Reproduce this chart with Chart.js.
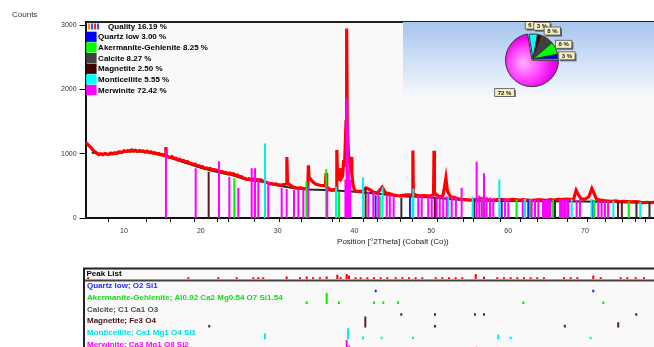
<!DOCTYPE html>
<html><head><meta charset="utf-8">
<script src="https://cdn.jsdelivr.net/npm/chart.js@4.4.1/dist/chart.umd.min.js"></script>
<style>
html,body{margin:0;padding:0;background:#fff;overflow:hidden;}
#wrap{position:relative;width:654px;height:347px;overflow:hidden;background:#fff;}
#main{position:absolute;left:0;top:0;}
#pie{position:absolute;left:403px;top:22px;background:linear-gradient(#a7c5ef,#f6f9fd);}
#peaks{position:absolute;left:0;top:262px;}
</style></head><body>
<div id="wrap">
<canvas id="main" width="720" height="250"></canvas>
<canvas id="pie" width="300" height="75"></canvas>
<canvas id="peaks" width="720" height="85"></canvas>
</div>
<script>
// ---------- text / labels ----------
const xTitle = 'Position [°2Theta] (Cobalt (Co))';
const yTitle = 'Counts';
const xTicks = [10, 20, 30, 40, 50, 60, 70, 80];
const yTicks = [0, 1000, 2000, 3000];
const fitLabel = 'Quality';
const fitPct = 16.19;
const peakListTitle = 'Peak List';

// ---------- phases ----------
const phaseNames = ['Quartz low', 'Akermanite-Gehlenite', 'Calcite', 'Magnetite', 'Monticellite', 'Merwinite'];
const phasePct = [3.00, 8.25, 8.27, 2.50, 5.55, 72.42];
const phaseFormulas = ['O2 Si1', 'Al0.92 Ca2 Mg0.54 O7 Si1.54', 'C1 Ca1 O3', 'Fe3 O4', 'Ca1 Mg1 O4 Si1', 'Ca3 Mg1 O8 Si2'];

// ---------- measured scan ----------
const dataPos = [
 5.0,5.25,5.5,5.75,6.0,6.25,6.5,6.75,7.0,7.25,
 7.5,7.75,8.0,8.25,8.5,8.75,9.0,9.25,9.5,9.75,
 10.0,10.25,10.5,10.75,11.0,11.25,11.5,11.75,12.0,12.25,
 12.5,12.75,13.0,13.25,13.5,13.75,14.0,14.25,14.5,14.75,
 15.0,15.25,15.38,15.45,15.52,15.75,16.0,16.25,16.5,16.75,
 17.0,17.25,17.5,17.75,18.0,18.25,18.5,18.75,19.0,19.25,
 19.5,19.75,20.0,20.25,20.5,20.75,21.0,21.25,21.5,21.75,
 22.0,22.25,22.5,22.75,23.0,23.25,23.5,23.75,24.0,24.25,
 24.5,24.75,25.0,25.25,25.5,25.75,26.0,26.25,26.5,26.75,
 27.0,27.25,27.5,27.75,28.0,28.25,28.5,28.75,29.0,29.25,
 29.5,29.75,30.0,30.25,30.5,30.75,31.0,31.12,31.2,31.28,
 31.6,32.0,32.5,33.0,33.5,33.92,34.0,34.08,34.3,34.6,
 35.0,35.5,36.0,36.22,36.3,36.38,36.6,37.0,37.4,37.62,
 37.7,37.78,37.95,38.12,38.2,38.28,38.45,38.6,38.7,38.9,
 38.98,39.06,39.25,39.45,39.55,39.65,39.8,40.0,40.5,41.0,
 41.5,42.0,42.5,43.0,43.6,44.0,44.5,45.0,45.5,46.0,
 46.5,47.0,47.54,47.6,47.66,48.0,48.5,49.0,49.5,50.0,
 50.29,50.35,50.41,50.6,51.0,51.5,51.7,51.9,52.1,52.5,
 53.0,53.5,54.0,54.5,55.0,55.5,56.0,56.5,57.0,57.5,
 58.0,58.5,59.0,59.5,60.0,60.5,61.0,61.5,62.0,62.5,
 63.0,63.5,64.0,64.5,65.0,65.5,66.0,66.5,67.0,67.5,
 68.0,68.5,68.85,69.2,69.5,70.0,70.5,70.9,71.2,71.5,
 72.0,72.5,73.0,73.5,74.0,74.5,75.0,75.5,76.0,76.5,
 77.0,77.5,78.0,78.5,79.0,79.5];
const dataCounts = [
 1180,1150,1120,1090,1050,1030,1005,985,1000,985,
 1005,995,990,1010,1000,1015,1005,1025,1030,1020,
 1045,1035,1050,1040,1060,1045,1055,1035,1050,1040,
 1045,1025,1040,1020,1030,1010,1015,1000,1005,985,
 990,970,975,1105,965,950,945,955,925,930,
 905,915,890,895,870,880,855,850,830,840,
 810,815,795,800,770,780,765,770,745,755,
 740,735,715,725,705,710,690,700,685,690,
 665,670,650,645,625,615,600,610,595,610,
 605,600,590,595,580,570,555,545,530,535,
 525,530,520,515,510,520,525,530,950,540,
 515,480,465,470,455,470,820,640,600,560,
 525,510,505,505,700,480,465,430,445,445,
 1060,720,600,600,780,620,650,900,800,1500,
 2950,1450,900,800,950,700,520,430,410,420,
 470,440,400,390,480,395,380,360,350,345,
 355,360,355,1050,380,355,345,350,345,350,
 360,1045,380,370,330,345,465,620,420,330,
 320,300,290,285,280,285,290,300,285,280,
 275,285,290,285,280,290,285,280,285,280,
 275,280,285,280,275,285,280,290,285,295,
 290,285,430,350,300,295,330,460,380,290,
 280,270,265,260,265,255,260,255,250,255,
 250,235,245,240,245,250];

// ---------- fitted background ----------
const bgPos = [5.8,7,8,9,10,11,12,13,14,15,16,18,20,22,24,26,28,30,32,34,36,38,40,42,44,46,48,50,52,54,56,60,65,70,75,79.5];
const bgCounts = [1020,995,990,1000,1030,1040,1035,1025,1000,975,935,860,780,720,670,595,565,505,465,445,435,425,410,390,365,340,330,320,300,280,270,265,260,255,245,240];

// ---------- reference sticks (position, counts) ----------
const quartzPos = [42.75,47.22,59.16,62.62,67.83,70.95];
const quartzH = [355,330,300,290,290,285];
const akermPos = [24.36,33.75,36.33,37.98,43.3,47.6,56.68,61.1,62.85,65.85,71.2,73.0,75.7];
const akermH = [620,560,760,400,340,330,305,290,290,285,280,265,260];
const calcitePos = [46.1,50.5,55.6,56.9,66.1,76.7,78.4];
const calciteH = [310,300,300,290,280,255,250];
const magnetitePos = [21.02,41.45,50.45,67.4,74.3,74.8];
const magnetiteH = [720,470,300,285,255,255];
const montPos = [28.35,37.6,41.1,43.65,47.65,52.2,55.38,58.85,62.2,68.27,70.85,73.7,77.2];
const montH = [1160,485,630,485,460,330,330,600,300,290,300,270,250];
const merwPos = [15.46,19.33,22.36,23.71,24.88,26.62,27.05,27.48,28.78,30.52,31.17,32.13,32.69,33.34,33.99,
 36.46,38.82,38.98,39.12,39.3,39.45,41.8,42.45,43.1,44.2,44.6,45.1,48.3,48.75,49.6,50.05,50.7,51.1,51.55,52.0,
 52.65,53.2,53.95,55.9,56.24,56.56,56.86,57.2,57.64,58.07,59.6,60.02,61.9,63.07,63.5,63.93,64.54,64.8,65.06,65.32,
 65.5,66.76,67.0,67.28,67.5,67.78,68.92,69.35,71.73,72.17,72.6,73.03];
const merwH = [1050,775,885,640,465,775,775,590,565,465,450,435,440,440,510,
 485,600,1860,1450,750,590,410,400,380,350,355,345,345,340,340,345,340,330,335,340,
 330,320,470,875,350,330,695,330,320,310,300,300,290,290,280,290,280,280,280,285,
 280,290,285,290,285,290,280,290,270,265,270,260];

// ---------- peak list panel (position, relative intensity %) ----------
const peakListPos = [5.35,18.37,22.27,24.67,26.83,27.48,28.13,31.17,32.9,33.78,34.6,35.5,36.38,37.76,38.2,38.98,39.28,40.15,40.8,41.67,
 42.54,43.41,44.27,45.36,46.22,47.09,47.96,48.83,50.57,51.43,52.3,53.17,54.03,55.78,56.86,58.59,59.46,60.33,61.19,62.06,
 62.93,63.79,64.66,67.27,68.14,69.0,71.08,72.05,74.65,75.51,76.6,77.68];
const peakListRel = [20,20,20,20,20,20,20,40,20,40,20,20,40,80,20,100,60,20,20,20,
 20,20,20,20,20,20,20,20,20,20,20,20,20,100,30,20,20,20,20,20,
 20,20,20,20,20,20,60,20,20,20,20,20];
const quartzRowPos = [42.76,71.08];
const quartzRowRel = [10,10];
const akermRowPos = [33.78,36.38,37.98,42.54,43.75,45.66,61.97,72.38];
const akermRowRel = [15,100,10,10,10,10,10,10];
const calciteRowPos = [46.09,50.48,55.68,56.86,76.68];
const calciteRowRel = [12,12,12,12,12];
const magnetiteRowPos = [21.1,41.41,50.48,67.38,74.33];
const magnetiteRowRel = [10,100,10,15,40];
const montRowPos = [28.35,39.15,41.1,43.54,47.61,58.7,60.33,70.74];
const montRowRel = [45,100,15,10,10,35,10,10];
const merwRowPos = [22.36,38.98,39.3,55.9,56.86];
const merwRowRel = [20,100,40,30,25];

// positions of the small peak markers under the x axis
const axisMarks = [7.95,12.81,15.97,19.13,22.08,23.57,26.92,30.13,33.04,37.03,38.02,41.14,42.89,45.92,47.44,50.7,54.16,55.46,58.94,61.54,63.71,67.62,70.22,72.6,74.78,76.51,77.81];

// ---------- styles ----------
const swatchColors = ['#0000ff','#00ff00','#404040','#3c0000','#00ffff','#ff00ff'];
const stickColors = ['#2020ff','#00ee00','#303030','#5a2020','#00eeee','#ff00ff'];
const textColors = ['#2a2aff','#10dd10','#505050','#4a1010','#00dede','#ff00ff'];
const FONT = 'Arial, "Liberation Sans", sans-serif';

const stickPosAll = [quartzPos, akermPos, calcitePos, magnetitePos, montPos, merwPos];
const stickHAll = [quartzH, akermH, calciteH, magnetiteH, montH, merwH];
const rowPosAll = [quartzRowPos, akermRowPos, calciteRowPos, magnetiteRowPos, montRowPos, merwRowPos];
const rowRelAll = [quartzRowRel, akermRowRel, calciteRowRel, magnetiteRowRel, montRowRel, merwRowRel];

function sticks(pos, h) {
  const d = [];
  pos.forEach((p, i) => { d.push({x: p, y: 0}, {x: p, y: h[i]}, {x: p, y: null}); });
  return d;
}
function zip(xs, ys) { return xs.map((x, i) => ({x: x, y: ys[i]})); }

// ---------- main chart ----------
const mainDecor = {
  id: 'mainDecor',
  beforeDraw(chart) {
    const {ctx, chartArea: a} = chart;
    ctx.save();
    ctx.fillStyle = '#f9f9f9';
    ctx.fillRect(a.left, a.top, a.right - a.left, a.bottom - a.top);
    ctx.restore();
  },
  afterDraw(chart) {
    const {ctx, chartArea: a} = chart;
    const xs = chart.scales.x;
    ctx.save();
    ctx.strokeStyle = '#222'; ctx.lineWidth = 2;
    ctx.beginPath(); ctx.moveTo(a.left, a.top); ctx.lineTo(a.right, a.top); ctx.stroke();
    ctx.strokeStyle = '#111'; ctx.lineWidth = 1;
    axisMarks.forEach(p => {
      const px = Math.round(xs.getPixelForValue(p)) + 0.5;
      ctx.beginPath(); ctx.moveTo(px, a.bottom + 1); ctx.lineTo(px, a.bottom + 4); ctx.stroke();
    });
    ctx.fillStyle = '#333'; ctx.font = '8px ' + FONT; ctx.textBaseline = 'middle'; ctx.textAlign = 'left';
    ctx.fillText(yTitle, 12, 15);
    const lx = a.left + 0.5;
    ctx.font = 'bold 8px ' + FONT;
    const icon = ['#ff8800', '#2255ff', '#ff2200', '#2255ff'];
    icon.forEach((c, i) => { ctx.fillStyle = c; ctx.fillRect(lx + 2 + i * 3, a.top + 1.5, 2, 6); });
    ctx.fillStyle = '#000';
    ctx.fillText(fitLabel + ' ' + fitPct.toFixed(2) + ' %', lx + 22, a.top + 4.8);
    phaseNames.forEach((n, i) => {
      const cy = a.top + 14.7 + 10.65 * i;
      ctx.fillStyle = swatchColors[i];
      ctx.fillRect(lx, cy - 5, 10.5, 10.2);
      ctx.fillStyle = '#000';
      ctx.fillText(n + ' ' + phasePct[i].toFixed(2) + ' %', lx + 12, cy + 0.5);
    });
    ctx.restore();
  }
};

const mainDatasets = [];
stickPosAll.forEach((pos, i) => {
  mainDatasets.push({label: phaseNames[i], data: sticks(pos, stickHAll[i]), borderColor: stickColors[i],
    borderWidth: 2, pointRadius: 0, spanGaps: false, borderCapStyle: 'butt'});
});
mainDatasets.reverse();
mainDatasets.push({label: 'scan', data: zip(dataPos, dataCounts), borderColor: '#ff0000', borderWidth: 3.2,
  pointRadius: 0, tension: 0});
mainDatasets.push({label: 'background', data: zip(bgPos, bgCounts), borderColor: '#1e2a1e', borderWidth: 2,
  pointRadius: 0, tension: 0});

new Chart(document.getElementById('main'), {
  type: 'line',
  data: {datasets: mainDatasets},
  options: {
    responsive: false, animation: false, maintainAspectRatio: false,
    layout: {padding: {top: 22, right: 19.8, left: 0, bottom: 0}},
    plugins: {legend: {display: false}, tooltip: {enabled: false}},
    elements: {line: {borderJoinStyle: 'miter'}},
    scales: {
      x: {
        type: 'linear', min: 5, max: 85,
        afterBuildTicks: s => { s.ticks = xTicks.map(v => ({value: v})); },
        afterFit: s => { s.height = 32; },
        grid: {display: true, drawOnChartArea: false, drawTicks: false},
        border: {display: true, color: '#111', width: 2},
        ticks: {font: {size: 7, family: FONT}, color: '#333', padding: 9, maxRotation: 0, autoSkip: false,
          callback: v => String(v)},
        title: {display: true, text: xTitle, font: {size: 8, family: FONT}, color: '#222', padding: {top: 0, bottom: 3}}
      },
      y: {
        type: 'linear', min: 0, max: 3050,
        afterBuildTicks: s => { s.ticks = yTicks.map(v => ({value: v})); },
        afterFit: s => { s.width = 85.6; },
        grid: {display: true, drawOnChartArea: false, drawTicks: true, tickLength: 6, color: '#000'},
        border: {display: true, color: '#111', width: 2},
        ticks: {font: {size: 7, family: FONT}, color: '#333', padding: 3, callback: v => String(v)}
      }
    }
  },
  plugins: [mainDecor]
});

// ---------- pie inset ----------
const pieOrder = [5, 4, 3, 2, 1, 0];
const pieLabels = {
  id: 'pieLabels',
  afterDatasetsDraw(chart) {
    const ctx = chart.ctx;
    const meta = chart.getDatasetMeta(0);
    const ds = chart.data.datasets[0];
    ctx.save();
    ctx.font = 'bold 6px ' + FONT; ctx.textAlign = 'center'; ctx.textBaseline = 'middle';
    meta.data.forEach((arc, k) => {
      const p = arc.getProps(['x', 'y', 'startAngle', 'endAngle', 'outerRadius'], true);
      const mid = (p.startAngle + p.endAngle) / 2;
      const big = ds.data[k] > 50;
      const r = p.outerRadius + ds.offset[k] + (big ? 13 : 9);
      const lx = p.x + Math.cos(mid) * r, ly = p.y + Math.sin(mid) * r;
      const t = Math.round(ds.data[k]) + ' %';
      const w = ctx.measureText(t).width + 6, h = 8;
      ctx.fillStyle = 'rgba(0,0,0,0.55)'; ctx.fillRect(lx - w / 2 + 1.5, ly - h / 2 + 1.5, w, h);
      ctx.fillStyle = '#f5efc2'; ctx.fillRect(lx - w / 2, ly - h / 2, w, h);
      ctx.strokeStyle = '#555'; ctx.lineWidth = 0.8; ctx.strokeRect(lx - w / 2, ly - h / 2, w, h);
      ctx.fillStyle = '#222'; ctx.fillText(t, lx, ly + 0.5);
    });
    ctx.restore();
  }
};
new Chart(document.getElementById('pie'), {
  type: 'pie',
  data: {
    labels: pieOrder.map(i => phaseNames[i]),
    datasets: [{
      data: pieOrder.map(i => phasePct[i]),
      backgroundColor: c => {
        const i = pieOrder[c.dataIndex];
        if (i === 5 && c.chart.chartArea) {
          const a = c.chart.chartArea;
          const cx = (a.left + a.right) / 2, cy = (a.top + a.bottom) / 2;
          const g = c.chart.ctx.createRadialGradient(cx - 9, cy + 3, 1, cx - 5, cy + 4, 27);
          g.addColorStop(0, '#ffa8ff'); g.addColorStop(0.6, '#ff40ff'); g.addColorStop(1, '#e800e8');
          return g;
        }
        return swatchColors[i];
      },
      borderColor: '#333', borderWidth: 1,
      offset: pieOrder.map(i => (i === 5 ? 6 : 0))
    }]
  },
  options: {
    responsive: false, animation: false, rotation: 90, radius: 25,
    layout: {padding: {left: 80, right: 120, top: 0, bottom: 1}},
    plugins: {legend: {display: false}, tooltip: {enabled: false}}
  },
  plugins: [pieLabels]
});

// ---------- peak list panel ----------
const ROW0 = 30.3, ROWSTEP = 11.75, PL_BOTTOM = 17;
const panelDecor = {
  id: 'panelDecor',
  beforeDraw(chart) {
    const ctx = chart.ctx;
    ctx.save();
    ctx.fillStyle = '#f9f9f9';
    ctx.fillRect(84, 6, 720 - 84, 85 - 6);
    ctx.strokeStyle = '#444'; ctx.lineWidth = 2;
    ctx.beginPath(); ctx.moveTo(84, 18.5); ctx.lineTo(720, 18.5); ctx.stroke();
    ctx.font = 'bold 8px ' + FONT; ctx.textBaseline = 'middle'; ctx.textAlign = 'left';
    ctx.fillStyle = '#000';
    ctx.fillText(peakListTitle, 86.5, 11.3);
    phaseNames.forEach((n, i) => {
      ctx.fillStyle = textColors[i];
      ctx.fillText(n + '; ' + phaseFormulas[i], 87, ROW0 + ROWSTEP * i - 6.4);
    });
    ctx.restore();
  },
  afterDraw(chart) {
    const ctx = chart.ctx;
    ctx.save();
    ctx.strokeStyle = '#222'; ctx.lineWidth = 2;
    ctx.beginPath(); ctx.moveTo(84, 85); ctx.lineTo(84, 6.5); ctx.lineTo(720, 6.5); ctx.stroke();
    ctx.restore();
  }
};
const panelDatasets = [];
panelDatasets.push({
  data: (() => { const d = []; peakListPos.forEach((p, k) => { d.push({x: p, y: PL_BOTTOM}, {x: p, y: PL_BOTTOM - 1 - peakListRel[k] / 100 * 4}, {x: p, y: null}); }); return d; })(),
  borderColor: '#ff0000', borderWidth: 2, pointRadius: 0, spanGaps: false
});
rowPosAll.forEach((pos, i) => {
  const b = ROW0 + ROWSTEP * i;
  const d = [];
  pos.forEach((p, k) => { d.push({x: p, y: b}, {x: p, y: b - 1.5 - rowRelAll[i][k] / 100 * 9.5}, {x: p, y: null}); });
  panelDatasets.push({data: d, borderColor: stickColors[i], borderWidth: 2, pointRadius: 0, spanGaps: false});
});
new Chart(document.getElementById('peaks'), {
  type: 'line',
  data: {datasets: panelDatasets},
  options: {
    responsive: false, animation: false,
    layout: {padding: {left: 85.6, right: 19.8, top: 0, bottom: 0}},
    plugins: {legend: {display: false}, tooltip: {enabled: false}},
    scales: {
      x: {type: 'linear', min: 5, max: 85, display: false},
      y: {type: 'linear', min: 0, max: 85, reverse: true, display: false}
    }
  },
  plugins: [panelDecor]
});
</script>
</body></html>
